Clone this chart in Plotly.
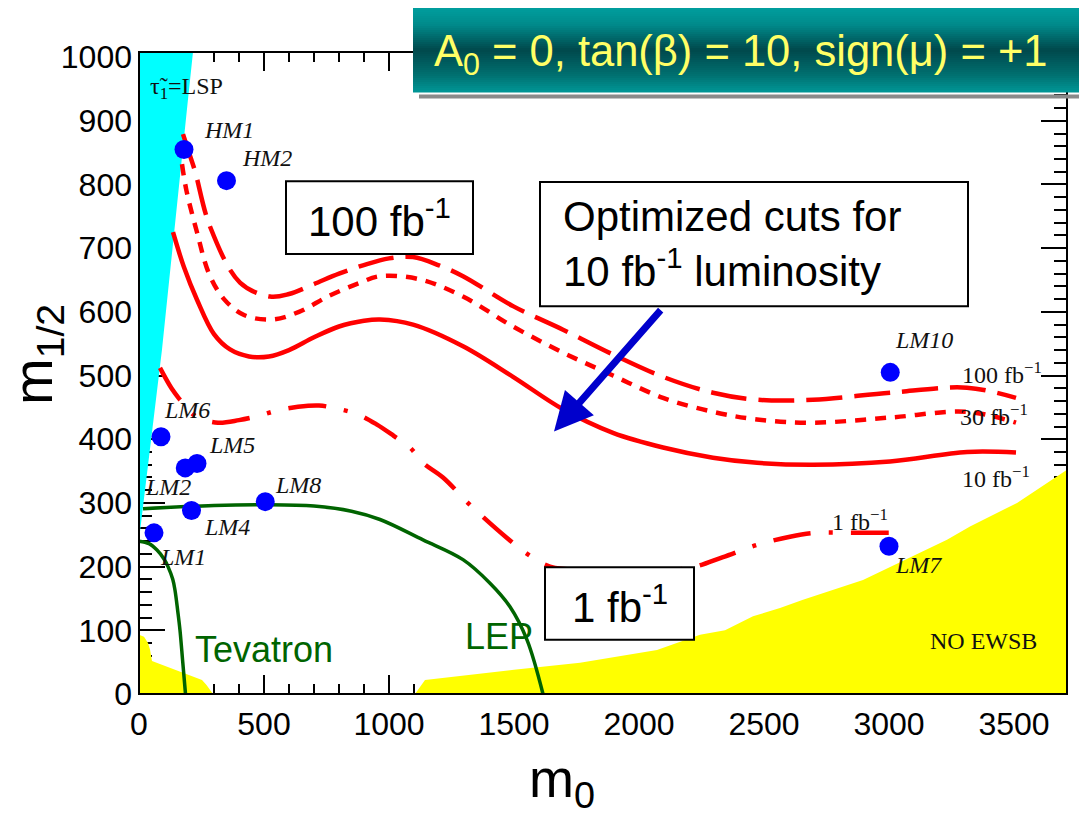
import plotly.graph_objects as go

# ---------------- data ----------------
# benchmark points
pt_names = ["HM1", "HM2", "LM1", "LM2", "LM4", "LM5", "LM6", "LM7", "LM8", "LM10"]
pt_m0 = [180, 350, 60, 185, 210, 232, 88, 3000, 505, 3005]
pt_m12 = [855, 806, 253, 355, 288, 362, 404, 232, 302, 505]
# label anchors (left edge, vertical middle)
lbl_m0 = [252, 404, 76, 16, 252, 272, 92, 3016, 536, 3016]
lbl_m12 = [885, 841, 215, 325, 262, 391, 446, 202, 328, 556]

# 5 sigma reach contours
c100_m0 = [176, 200, 224, 284, 404, 524, 600, 696, 800, 896, 1000, 1096, 1200, 1296, 1496, 1696, 1896, 2096, 2296, 2472, 2696, 3004, 3312, 3508]
c100_m12 = [879, 850, 821, 734, 646, 624, 628, 643, 660, 673, 684, 686, 673, 656, 609, 572, 533, 498, 473, 462, 462, 473, 481, 465]

c30_m0 = [172, 190, 232, 280, 340, 420, 532, 640, 760, 880, 964, 1124, 1296, 1496, 1696, 1896, 2096, 2296, 2472, 2696, 3004, 3312, 3508]
c30_m12 = [832, 790, 725, 660, 620, 595, 588, 600, 625, 645, 656, 651, 624, 577, 536, 500, 465, 443, 431, 426, 434, 443, 426]

c10_m0 = [136, 180, 232, 300, 364, 440, 520, 600, 700, 800, 900, 964, 1096, 1296, 1496, 1696, 1896, 2096, 2296, 2472, 2696, 3004, 3312, 3508]
c10_m12 = [725, 670, 619, 565, 541, 530, 530, 540, 560, 577, 586, 588, 580, 546, 498, 447, 410, 387, 371, 363, 360, 365, 380, 379]

c1_m0 = [84, 130, 164, 200, 236, 316, 400, 472, 552, 636, 720, 792, 876, 952, 1020, 1084, 1136, 1216, 1324, 1472, 1560, 1644, 1800, 2000, 2204, 2336, 2472, 2604, 2704, 2872, 3004]
c1_m12 = [512, 480, 462, 445, 434, 426, 430, 436, 445, 451, 453, 448, 439, 423, 405, 387, 363, 340, 297, 245, 218, 200, 194, 193, 198, 215, 234, 247, 253, 253, 253]

# experimental limits
tev_m0 = [0, 40, 72, 100, 116, 135, 144, 155, 164, 175, 186]
tev_m12 = [240, 236, 226, 212, 200, 180, 163, 130, 100, 50, 0]
lep_m0 = [16, 300, 500, 700, 850, 964, 1136, 1296, 1404, 1484, 1552, 1616]
lep_m12 = [291, 296, 297, 295, 287, 274, 242, 211, 174, 137, 85, 0]

# theoretically excluded regions
stau_m0 = [0, 92, 196, 216, 0]
stau_m12 = [242, 541, 934, 1008, 1008]
ewsb_l_m0 = [0, 0, 20, 36, 44, 52, 252, 270, 296]
ewsb_l_m12 = [0, 93, 90, 80, 70, 52, 22, 14, 0]
ewsb_r_m0 = [1104, 1144, 1500, 1764, 2072, 2164, 2244, 2344, 2456, 2564, 2656, 2896, 3232, 3324, 3512, 3712, 3712]
ewsb_r_m12 = [0, 22, 38, 49, 69, 82, 93, 100, 122, 135, 148, 179, 242, 263, 300, 352, 0]

x_ticks = [0, 500, 1000, 1500, 2000, 2500, 3000, 3500]
y_ticks = [0, 100, 200, 300, 400, 500, 600, 700, 800, 900, 1000]

# ---------------- layout geometry ----------------
W, H = 1079, 815
ML, MR, MT, MB = 139, 12, 52, 121
PW, PH = W - ML - MR, H - MT - MB


def px(x):
    return (x - ML) / PW


def py(y):
    return (H - MB - y) / PH


SANS = "Liberation Sans, Arial, sans-serif"
SERIF = "Liberation Serif, Times New Roman, serif"
RED = "#FF0000"
GREEN = "#006400"

fig = go.Figure()

# filled regions
fig.add_trace(go.Scatter(x=stau_m0, y=stau_m12, fill="toself", fillcolor="#00FFFF",
                         mode="lines", line=dict(width=0), hoverinfo="skip"))
fig.add_trace(go.Scatter(x=ewsb_l_m0, y=ewsb_l_m12, fill="toself", fillcolor="#FFFF00",
                         mode="lines", line=dict(width=0), hoverinfo="skip"))
fig.add_trace(go.Scatter(x=ewsb_r_m0, y=ewsb_r_m12, fill="toself", fillcolor="#FFFF00",
                         mode="lines", line=dict(width=0), hoverinfo="skip"))

# limits
fig.add_trace(go.Scatter(x=tev_m0, y=tev_m12, mode="lines",
                         line=dict(color=GREEN, width=3.5, shape="spline")))
fig.add_trace(go.Scatter(x=lep_m0, y=lep_m12, mode="lines",
                         line=dict(color=GREEN, width=3.5, shape="spline")))

# reach contours
fig.add_trace(go.Scatter(x=c100_m0, y=c100_m12, mode="lines",
                         line=dict(color=RED, width=4.5, dash="36px,12px", shape="spline")))
fig.add_trace(go.Scatter(x=c30_m0, y=c30_m12, mode="lines",
                         line=dict(color=RED, width=4.5, dash="11px,9px", shape="spline")))
fig.add_trace(go.Scatter(x=c10_m0, y=c10_m12, mode="lines",
                         line=dict(color=RED, width=4.5, shape="spline")))
fig.add_trace(go.Scatter(x=c1_m0, y=c1_m12, mode="lines",
                         line=dict(color=RED, width=4.5, dash="38px,18px,4px,18px", shape="spline")))

# benchmark points
fig.add_trace(go.Scatter(x=pt_m0, y=pt_m12, mode="markers",
                         marker=dict(color="#0000FF", size=19, line=dict(width=0))))

shapes = []
annotations = []

# plot frame
shapes.append(dict(type="rect", xref="paper", yref="paper", x0=0, x1=1, y0=0, y1=1,
                   line=dict(color="black", width=2), layer="above"))

# text boxes (data coordinates)
for (x0, x1, y0, y1) in [(588, 1336, 691, 805), (1604, 3316, 609, 804), (1624, 2220, 85, 199)]:
    shapes.append(dict(type="rect", xref="x", yref="y", x0=x0, x1=x1, y0=y0, y1=y1,
                       fillcolor="white", line=dict(color="black", width=2), layer="above"))

# title banner with vertical gradient
stops = [(0.0, (0, 158, 158)), (0.2, (0, 138, 138)), (0.5, (0, 72, 76)),
         (0.8, (0, 112, 112)), (1.0, (0, 150, 150))]


def grad(t):
    for (t0, c0), (t1, c1) in zip(stops[:-1], stops[1:]):
        if t0 <= t <= t1:
            f = (t - t0) / (t1 - t0)
            return "rgb(%d,%d,%d)" % tuple(round(a + (b - a) * f) for a, b in zip(c0, c1))
    return "rgb(0,150,150)"


top, bot = 8, 92
N = 42
for i in range(N):
    ya = top + (bot - top) * i / N
    yb = top + (bot - top) * (i + 1) / N + 0.6
    shapes.append(dict(type="rect", xref="paper", yref="paper", x0=px(413), x1=px(1085),
                       y0=py(yb), y1=py(ya), fillcolor=grad((i + 0.5) / N),
                       line=dict(width=0), layer="above"))
shapes.append(dict(type="rect", xref="paper", yref="paper", x0=px(419), x1=px(1085),
                   y0=py(98.5), y1=py(94.5), fillcolor="#8A8A8A", line=dict(width=0), layer="above"))

annotations.append(dict(xref="paper", yref="paper", x=px(432), y=py(54), xanchor="left", yanchor="middle",
                        text="A<sub>0</sub> = 0, tan(β) = 10, sign(μ) = +1", showarrow=False,
                        font=dict(family=SANS, size=43.5, color="#FFFF66")))

# box texts
annotations.append(dict(x=962, y=748, xref="x", yref="y", text="100 fb<sup>-1</sup>", showarrow=False,
                        font=dict(family=SANS, size=42, color="black")))
annotations.append(dict(x=1688, y=706, xref="x", yref="y", xanchor="left", align="left",
                        text="Optimized cuts for<br>10 fb<sup>-1</sup> luminosity", showarrow=False,
                        font=dict(family=SANS, size=42, color="black")))
annotations.append(dict(x=1922, y=142, xref="x", yref="y", text="1 fb<sup>-1</sup>", showarrow=False,
                        font=dict(family=SANS, size=42, color="black")))

# arrow
annotations.append(dict(x=1660, y=412, ax=2092, ay=605, xref="x", yref="y", axref="x", ayref="y",
                        text="", showarrow=True, arrowhead=2, arrowsize=1.1, arrowwidth=7,
                        arrowcolor="#0000CC", standoff=0))

# point labels
for n, lx, ly in zip(pt_names, lbl_m0, lbl_m12):
    annotations.append(dict(x=lx, y=ly, xref="x", yref="y", xanchor="left", yanchor="middle",
                            text="<i>%s</i>" % n, showarrow=False,
                            font=dict(family=SERIF, size=24, color="#111111")))

# contour / region labels
for t, lx, ly in [("100 fb<sup>−1</sup>", 3284, 504), ("30 fb<sup>−1</sup>", 3276, 438),
                  ("10 fb<sup>−1</sup>", 3284, 341), ("1 fb<sup>−1</sup>", 2764, 273),
                  ("NO EWSB", 3156, 83), ("τ̃<sub>1</sub>=LSP", 36, 951)]:
    annotations.append(dict(x=lx, y=ly, xref="x", yref="y", xanchor="left", yanchor="middle",
                            text=t, showarrow=False, font=dict(family=SERIF, size=24, color="#111111")))

annotations.append(dict(x=216, y=70, xref="x", yref="y", xanchor="left", yanchor="middle",
                        text="Tevatron", showarrow=False, font=dict(family=SANS, size=36, color=GREEN)))
annotations.append(dict(x=1296, y=91, xref="x", yref="y", xanchor="left", yanchor="middle",
                        text="LEP", showarrow=False, font=dict(family=SANS, size=36, color=GREEN)))

# axis titles
annotations.append(dict(xref="paper", yref="paper", x=px(562), y=py(782), xanchor="center", yanchor="middle",
                        text="m<sub>0</sub>", showarrow=False, font=dict(family=SANS, size=54, color="black")))
annotations.append(dict(xref="paper", yref="paper", x=px(36), y=py(355), xanchor="center", yanchor="middle",
                        text="m<sub>1/2</sub>", textangle=-90, showarrow=False,
                        font=dict(family=SANS, size=56, color="black")))

fig.update_layout(
    width=W, height=H,
    margin=dict(l=ML, r=MR, t=MT, b=MB, pad=0),
    paper_bgcolor="white", plot_bgcolor="white",
    showlegend=False,
    shapes=shapes, annotations=annotations,
    xaxis=dict(range=[0, 3712], tickvals=x_ticks, ticktext=[str(v) for v in x_ticks],
               ticks="inside", ticklen=19, tickwidth=2, tickcolor="black",
               mirror="allticks", showline=False, showgrid=False, zeroline=False,
               layer="below traces", ticklabelstandoff=8,
               tickfont=dict(family=SANS, size=32, color="black"),
               minor=dict(dtick=100, tick0=0, ticks="inside", ticklen=10, tickwidth=2, tickcolor="black",
                          showgrid=False)),
    yaxis=dict(range=[0, 1008], tickvals=y_ticks, ticktext=[str(v) for v in y_ticks],
               ticks="inside", ticklen=26, tickwidth=2, tickcolor="black",
               mirror="allticks", showline=False, showgrid=False, zeroline=False,
               layer="below traces", ticklabelstandoff=6,
               tickfont=dict(family=SANS, size=32, color="black"),
               minor=dict(dtick=20, tick0=0, ticks="inside", ticklen=13, tickwidth=2, tickcolor="black",
                          showgrid=False)),
)

fig.write_html("out.html")
